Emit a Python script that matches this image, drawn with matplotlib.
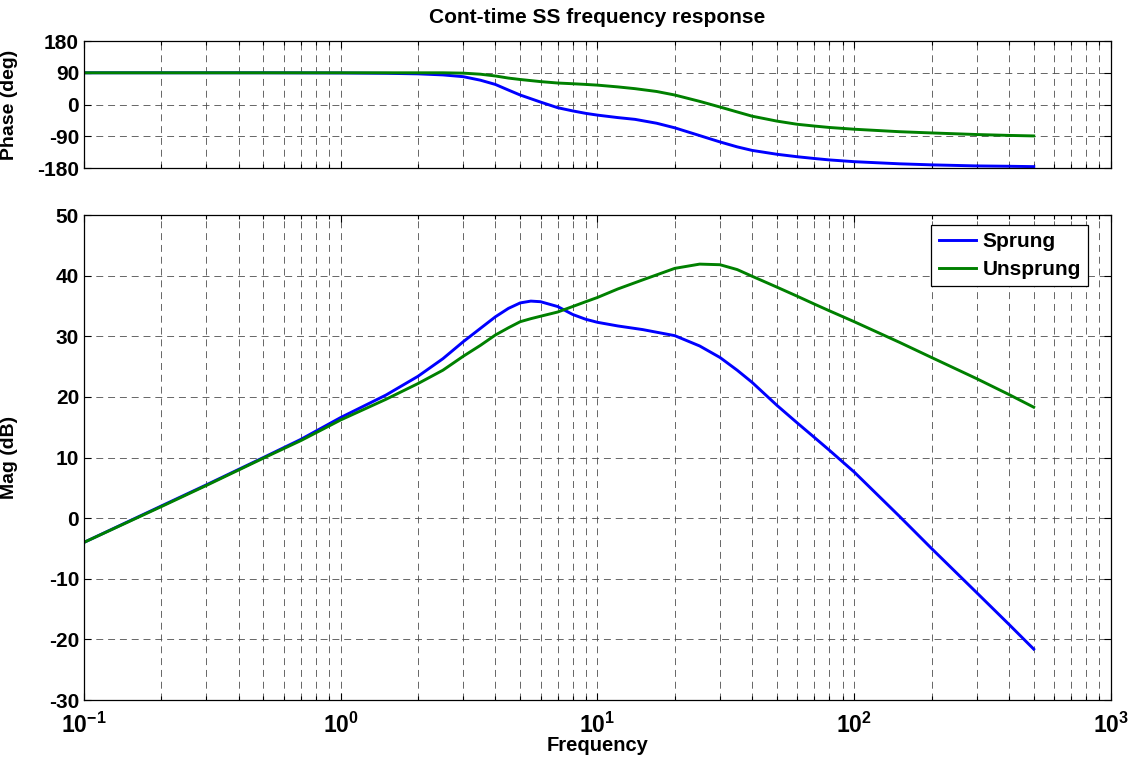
import numpy as np
import matplotlib
matplotlib.use('Agg')
import matplotlib.pyplot as plt
from matplotlib.ticker import LogLocator, FixedLocator, NullFormatter

# valores
freq_mag = [0.1, 0.2, 0.3, 0.5, 0.7, 1, 1.5, 2, 2.5, 3, 3.5, 4, 4.5, 5, 5.5, 6,
            7, 8, 9, 10, 12, 15, 20, 25, 30, 35, 40, 50, 60, 70, 80, 100, 150,
            200, 300, 400, 500]
mag_sprung = [-4.0, 2.0, 5.5, 10.0, 13.0, 16.6, 20.3, 23.4, 26.3, 29.1, 31.3,
              33.2, 34.6, 35.5, 35.8, 35.7, 34.9, 33.6, 32.8, 32.3, 31.7, 31.1,
              30.1, 28.4, 26.5, 24.4, 22.4, 18.6, 15.7, 13.3, 11.2, 7.6, 0.3,
              -5.0, -12.3, -17.5, -21.6]
mag_unsprung = [-4.0, 1.9, 5.4, 9.9, 12.8, 16.2, 19.6, 22.2, 24.4, 26.7, 28.5,
                30.2, 31.4, 32.4, 32.9, 33.3, 34.0, 34.9, 35.7, 36.4, 37.8,
                39.3, 41.2, 41.9, 41.8, 41.0, 39.9, 38.1, 36.6, 35.3, 34.2,
                32.4, 29.0, 26.5, 23.0, 20.4, 18.3]

freq_ph = [0.1, 0.5, 1, 1.5, 2, 2.5, 3, 3.5, 4, 4.5, 5, 6, 7, 8, 9, 10, 12, 14,
           17, 20, 25, 30, 35, 40, 50, 60, 70, 80, 100, 150, 200, 300, 400, 500]
ph_sprung = [90, 90, 89.5, 88.5, 87, 84, 79, 69, 57, 41, 27, 7, -9, -18, -25,
             -30, -37, -42, -53, -66, -88, -106, -120, -130, -141, -148, -153,
             -157, -162, -168, -171, -174, -175, -176]
ph_unsprung = [90, 90, 90, 90, 90, 90, 89, 86, 81, 75, 71, 65, 61, 59, 57, 55,
               50, 45, 37, 27, 9, -7, -21, -33, -47, -56, -61, -65, -70, -77,
               -80.5, -85, -87.5, -89]

nombres = ['Sprung', 'Unsprung']
colores = ['#0000ff', '#008000']

plt.rcParams['font.family'] = ['Liberation Sans', 'DejaVu Sans']
plt.rcParams['font.weight'] = 'bold'
plt.rcParams['axes.unicode_minus'] = False
plt.rcParams['mathtext.fontset'] = 'custom'
plt.rcParams['mathtext.rm'] = 'Liberation Sans:bold'
plt.rcParams['mathtext.bf'] = 'Liberation Sans:bold'
plt.rcParams['lines.scale_dashes'] = False

fig = plt.figure(figsize=(11.3, 7.6), dpi=100)
ax_ph = fig.add_axes([0.0743, 0.7789, 0.9089, 0.1671])
ax_mag = fig.add_axes([0.0743, 0.0789, 0.9089, 0.6382])

ax_ph.semilogx(freq_ph, ph_sprung, color=colores[0], lw=2.1)
ax_ph.semilogx(freq_ph, ph_unsprung, color=colores[1], lw=2.1)
ax_mag.semilogx(freq_mag, mag_sprung, color=colores[0], lw=2.1, label=nombres[0])
ax_mag.semilogx(freq_mag, mag_unsprung, color=colores[1], lw=2.1, label=nombres[1])

grid_kw = dict(color='0.3', linestyle=(0, (5, 3.5)), linewidth=0.6)
for ax in (ax_ph, ax_mag):
    ax.set_xlim(0.1, 1000)
    ax.xaxis.set_major_locator(LogLocator(base=10, numticks=10))
    ax.xaxis.set_minor_locator(LogLocator(base=10, subs=np.arange(2, 10), numticks=10))
    ax.xaxis.set_minor_formatter(NullFormatter())
    ax.grid(True, which='major', **grid_kw)
    ax.grid(True, which='minor', axis='x', **grid_kw)
    ax.tick_params(which='both', direction='in', top=True, right=True,
                   labelsize=15, width=0.8)
    ax.tick_params(which='major', length=5)
    ax.tick_params(which='minor', length=3)
    for s in ax.spines.values():
        s.set_linewidth(0.9)

ax_ph.set_ylim(-180, 180)
ax_ph.yaxis.set_major_locator(FixedLocator([-180, -90, 0, 90, 180]))
ax_ph.xaxis.set_major_formatter(NullFormatter())
ax_ph.set_ylabel('Phase (deg)', fontsize=14, fontweight='bold')
ax_ph.yaxis.set_label_coords(-0.064, 0.5)
ax_ph.set_title('Cont-time SS frequency response', fontsize=15,
                fontweight='bold', pad=13)

ax_mag.set_ylim(-30, 50)
ax_mag.set_yticks(np.arange(-30, 51, 10))
ax_mag.set_xticks([0.1, 1, 10, 100, 1000])
ax_mag.set_xticklabels([r'$10^{-1}$', r'$10^{0}$', r'$10^{1}$', r'$10^{2}$', r'$10^{3}$'])
ax_mag.tick_params(axis='x', which='major', pad=9, labelsize=16.5)
ax_mag.set_ylabel('Mag (dB)', fontsize=14, fontweight='bold')
ax_mag.yaxis.set_label_coords(-0.064, 0.5)
ax_mag.set_xlabel('Frequency', fontsize=14.5, fontweight='bold')
ax_mag.xaxis.set_label_coords(0.5, -0.075)

leg = ax_mag.legend(loc='upper right', bbox_to_anchor=(0.9776, 0.979),
                    borderaxespad=0, fancybox=False, framealpha=1,
                    edgecolor='black', prop={'size': 15, 'weight': 'bold'},
                    handlelength=1.8, handletextpad=0.3, labelspacing=0.4,
                    borderpad=0.35)
leg.get_frame().set_linewidth(0.9)

fig.savefig('out.png', dpi=100)
